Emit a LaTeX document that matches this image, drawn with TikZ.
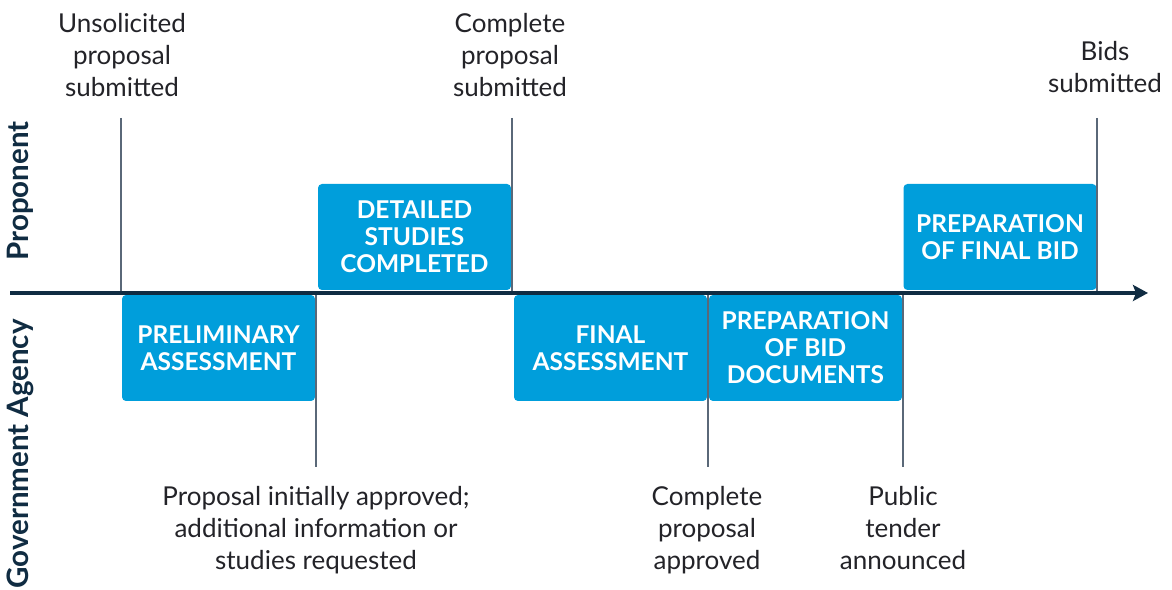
\documentclass[tikz,border=0pt]{standalone}
\usepackage{fontspec}
\setmainfont{Lato}
\usetikzlibrary{arrows.meta}
\definecolor{boxblue}{RGB}{0,158,219}
\definecolor{axisnavy}{RGB}{16,44,66}
\definecolor{tickgray}{RGB}{90,104,120}
\definecolor{labeltext}{RGB}{35,35,40}
\begin{document}
\begin{tikzpicture}[x=1pt,y=1pt,
  phase/.style={fill=boxblue, rounded corners=4pt, minimum width=193pt, minimum height=106pt,
    text=white, font=\fontsize{24.5}{27}\selectfont\bfseries, align=center, inner sep=0pt},
  milestone/.style={font=\fontsize{26}{32}\selectfont, text=labeltext, align=center, inner sep=0pt},
  lane/.style={font=\fontsize{29.5}{30}\selectfont\bfseries, text=axisnavy, rotate=90, inner sep=0pt},
  tick/.style={draw=tickgray, line width=1.4pt},
  axis/.style={draw=axisnavy, line width=3.6pt, -{Stealth[length=15pt,width=16pt,inset=3pt]}}]
\useasboundingbox (0,0) rectangle (1172,589);
% axis
\coordinate (a0) at (10,296);
\coordinate (a1) at (1148,296);
% boxes
\node[phase] (detailed) at (414.5,352) {DETAILED\\STUDIES\\COMPLETED};
\node[phase] (finalbid) at (1000,352) {PREPARATION\\OF FINAL BID};
\node[phase] (prelim) at (218.5,241) {PRELIMINARY\\ASSESSMENT};
\node[phase] (finalass) at (610.5,241) {FINAL\\ASSESSMENT};
\node[phase] (biddocs) at (805.5,241) {PREPARATION\\OF BID\\DOCUMENTS};
% tick coordinates
\coordinate (t1top) at (121,471);
\coordinate (t1bot) at (121,296);
\coordinate (t2top) at (512,471);
\coordinate (t2bot) at (512,296);
\coordinate (t3top) at (1097,471);
\coordinate (t3bot) at (1097,296);
\coordinate (b1top) at (316,296);
\coordinate (b1bot) at (316,122);
\coordinate (b2top) at (708,296);
\coordinate (b2bot) at (708,122);
\coordinate (b3top) at (903,296);
\coordinate (b3bot) at (903,122);
\draw[tick] (t1top) -- (t1bot);
\draw[tick] (t2top) -- (t2bot);
\draw[tick] (t3top) -- (t3bot);
\draw[tick] (b1top) -- (b1bot);
\draw[tick] (b2top) -- (b2bot);
\draw[tick] (b3top) -- (b3bot);
\draw[axis] (a0) -- (a1);
% labels
\node[milestone, anchor=south] (l1) at (122,492) {Unsolicited\\proposal\\submitted};
\node[milestone, anchor=south] (l2) at (510,492) {Complete\\proposal\\submitted};
\node[milestone, anchor=south] (l3) at (1105,496) {Bids\\submitted};
\node[milestone, anchor=north] (l4) at (316,103) {Proposal initially approved;\\additional information or\\studies requested};
\node[milestone, anchor=north] (l5) at (707,103) {Complete\\proposal\\approved};
\node[milestone, anchor=north] (l6) at (903,103) {Public\\tender\\announced};
\node[lane] (prop) at (20,398) {Proponent};
\node[lane] (gov) at (20,135) {Government Agency};
\end{tikzpicture}
\end{document}
